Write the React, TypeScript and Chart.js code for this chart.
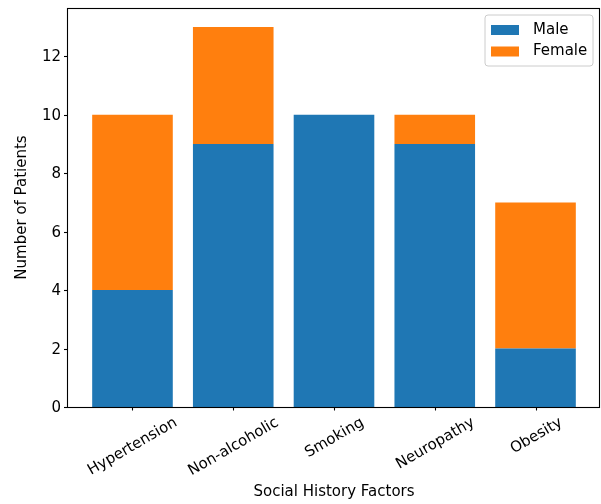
import React, { useEffect, useRef } from "react";
import { Chart, registerables } from "chart.js";

Chart.register(...registerables);

const categories = ["Hypertension", "Non-alcoholic", "Smoking", "Neuropathy", "Obesity"];
const maleCounts = [4, 9, 10, 9, 2];
const femaleCounts = [6, 4, 0, 1, 5];
const yTicks = [0, 2, 4, 6, 8, 10, 12];
const seriesNames = ["Male", "Female"];
const seriesColors = ["#1f77b4", "#ff7f0e"];

const FONT_PX = 15;
const FONT = `${FONT_PX}px "DejaVu Sans", sans-serif`;

const axesPlugin = {
  id: "mplAxes",
  afterDraw(chart: any) {
    const { ctx, chartArea } = chart;
    const xs = chart.scales.x;
    const ys = chart.scales.y;
    const { left, right, top, bottom } = chartArea;
    ctx.save();

    // frame
    ctx.strokeStyle = "#000";
    ctx.lineWidth = 1.1;
    ctx.strokeRect(Math.round(left) - 0.5, Math.round(top) + 0.5, Math.round(right) - Math.round(left), Math.round(bottom) - Math.round(top));

    ctx.font = FONT;
    ctx.fillStyle = "#000";

    // y ticks
    ctx.textAlign = "right";
    ctx.textBaseline = "middle";
    yTicks.forEach((v) => {
      const py = Math.round(ys.getPixelForValue(v)) + 0.5;
      ctx.beginPath();
      ctx.moveTo(left - 0.5, py);
      ctx.lineTo(left - 4, py);
      ctx.stroke();
      ctx.fillText(String(v), left - 7, py + 1);
    });

    // x ticks with rotated labels, centred on the tick
    const tickTop = bottom + 7;
    const rad = (30 * Math.PI) / 180;
    const lineH = FONT_PX * 1.164;
    categories.forEach((c, i) => {
      const px = Math.round(xs.getPixelForValue(i)) + 0.5;
      ctx.beginPath();
      ctx.moveTo(px, bottom);
      ctx.lineTo(px, bottom + 3.5);
      ctx.stroke();
      const w = ctx.measureText(c).width;
      const H = w * Math.sin(rad) + lineH * Math.cos(rad);
      ctx.save();
      ctx.translate(px, tickTop + H / 2);
      ctx.rotate(-rad);
      ctx.textAlign = "center";
      ctx.textBaseline = "middle";
      ctx.fillText(c, 0, 0);
      ctx.restore();
    });

    // axis titles
    ctx.textAlign = "center";
    ctx.textBaseline = "middle";
    ctx.fillText("Social History Factors", (left + right) / 2, 492);
    ctx.save();
    ctx.translate(22, (top + bottom) / 2);
    ctx.rotate(-Math.PI / 2);
    ctx.fillText("Number of Patients", 0, 0);
    ctx.restore();

    // legend
    const lx = 485, ly = 15, lw = 108, lh = 51, r = 3;
    ctx.beginPath();
    ctx.moveTo(lx + r, ly);
    ctx.arcTo(lx + lw, ly, lx + lw, ly + lh, r);
    ctx.arcTo(lx + lw, ly + lh, lx, ly + lh, r);
    ctx.arcTo(lx, ly + lh, lx, ly, r);
    ctx.arcTo(lx, ly, lx + lw, ly, r);
    ctx.closePath();
    ctx.fillStyle = "rgba(255,255,255,0.8)";
    ctx.fill();
    ctx.strokeStyle = "#cccccc";
    ctx.lineWidth = 1;
    ctx.stroke();
    ctx.textAlign = "left";
    seriesNames.forEach((name, i) => {
      const cy = 30 + i * 21.5;
      ctx.fillStyle = seriesColors[i];
      ctx.fillRect(491, cy - 5, 28, 10);
      ctx.fillStyle = "#000";
      ctx.fillText(name, 533, cy);
    });

    ctx.restore();
  },
};

export default function App() {
  const canvasRef = useRef<HTMLCanvasElement | null>(null);

  useEffect(() => {
    document.body.style.margin = "0";
    const canvas = canvasRef.current;
    if (!canvas) return;
    const chart = new Chart(canvas, {
      type: "bar",
      data: {
        datasets: [
          {
            label: seriesNames[0],
            data: maleCounts.map((v, i) => ({ x: i, y: v })),
            backgroundColor: seriesColors[0],
            borderWidth: 0,
          },
          {
            label: seriesNames[1],
            data: femaleCounts.map((v, i) => ({ x: i, y: v })),
            backgroundColor: seriesColors[1],
            borderWidth: 0,
          },
        ],
      },
      options: {
        responsive: false,
        animation: false,
        devicePixelRatio: 1,
        layout: { padding: { left: 68, top: 8, right: 1, bottom: 97 } },
        datasets: { bar: { barPercentage: 0.8, categoryPercentage: 1 } },
        scales: {
          x: {
            type: "linear",
            min: -0.64,
            max: 4.64,
            offset: false,
            stacked: true,
            display: false,
            afterBuildTicks: (s: any) => {
              s.ticks = categories.map((_, i) => ({ value: i }));
            },
          },
          y: { min: 0, max: 13.65, stacked: true, display: false },
        },
        plugins: { legend: { display: false }, tooltip: { enabled: false } },
      },
      plugins: [axesPlugin],
    } as any);
    return () => chart.destroy();
  }, []);

  return <canvas ref={canvasRef} width={601} height={504} style={{ display: "block" }} />;
}
